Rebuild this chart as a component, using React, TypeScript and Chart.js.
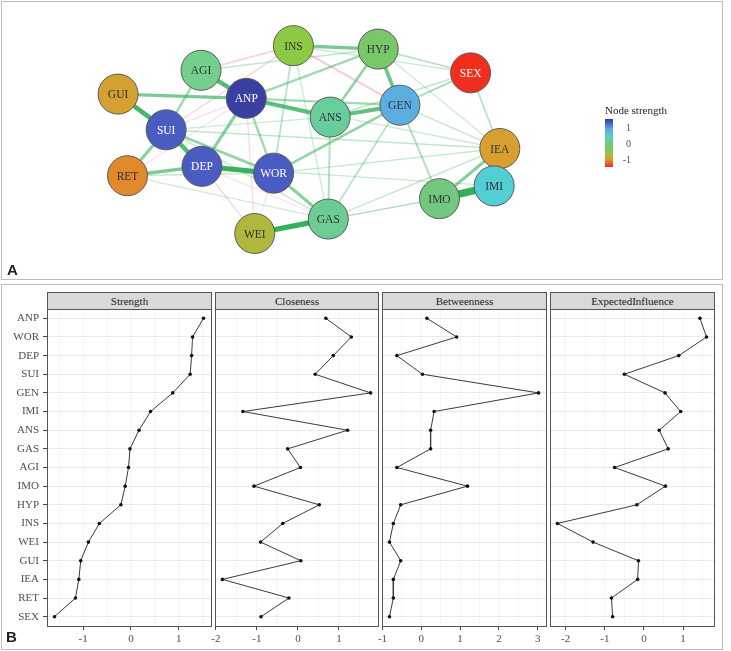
import React, { useEffect, useRef } from "react";
import { Chart, registerables } from "chart.js";

Chart.register(...registerables);

const SERIF = "'Liberation Serif', 'DejaVu Serif', serif";

// ---------- Panel A: network ----------
const nodeNames = ["INS", "HYP", "SEX", "AGI", "GUI", "ANP", "ANS", "GEN", "SUI", "DEP", "RET", "WOR", "IEA", "IMI", "IMO", "GAS", "WEI"];
const nodeX = [289, 379, 477, 191, 103, 239, 328, 402, 154, 192, 113, 268, 508, 502, 444, 326, 248];
const nodeY = [29, 33, 61, 58, 86, 91, 113, 99, 128, 171, 182, 179, 150, 194, 209, 233, 250];
const nodeColors = ["#8cca45", "#78c86a", "#f02e1e", "#74cf8c", "#d4a032", "#3a3fa2", "#68cc9c", "#5aaee0", "#4a5bc2", "#4a5bc2", "#e08a2c", "#4a5bc2", "#d8a030", "#52cfd2", "#72c87e", "#6ccc94", "#afb83c"];
const nodeTextColors = ["#333", "#333", "#fff", "#333", "#333", "#fff", "#333", "#333", "#fff", "#fff", "#333", "#fff", "#333", "#333", "#333", "#333", "#333"];

const edgeFrom = ["IMO", "WEI", "DEP", "GUI", "SUI", "AGI", "ANP", "ANS", "HYP", "GUI", "INS", "RET", "IEA", "RET", "IEA", "WOR", "ANP", "SUI", "WOR", "AGI", "ANP", "ANS", "ANP", "ANP", "SEX", "SEX", "SEX", "SEX", "SEX", "GEN", "GEN", "ANS", "INS", "SUI", "ANP", "DEP", "WOR", "GAS", "GAS", "WEI", "RET", "RET", "SUI", "AGI", "INS", "ANS", "HYP", "GEN", "AGI", "INS", "SUI", "DEP", "ANP", "SUI", "RET", "DEP", "WOR"];
const edgeTo = ["IMI", "GAS", "WOR", "SUI", "DEP", "ANP", "ANS", "GEN", "GEN", "ANP", "HYP", "DEP", "IMI", "SUI", "IMO", "GAS", "DEP", "WOR", "GEN", "SUI", "WOR", "HYP", "HYP", "GEN", "GEN", "HYP", "ANS", "INS", "IEA", "IMO", "GAS", "GAS", "WOR", "IEA", "IEA", "IMI", "IEA", "IEA", "IMO", "IMO", "WOR", "GAS", "GAS", "HYP", "GAS", "SUI", "IEA", "IEA", "INS", "GEN", "INS", "WEI", "WEI", "ANP", "ANP", "GAS", "WEI"];
const edgeWeight = [1.0, 0.7, 0.65, 0.6, 0.55, 0.55, 0.5, 0.5, 0.45, 0.4, 0.4, 0.4, 0.4, 0.35, 0.35, 0.35, 0.35, 0.3, 0.3, 0.25, 0.25, 0.3, 0.25, 0.25, 0.2, 0.15, 0.12, 0.1, 0.15, 0.18, 0.15, 0.18, 0.15, 0.12, 0.08, 0.1, 0.1, 0.1, 0.08, 0.06, 0.1, 0.06, 0.1, 0.12, 0.08, 0.08, 0.08, 0.1, -0.15, -0.2, -0.12, -0.12, -0.1, -0.1, -0.06, -0.06, -0.06];

// ---------- Panel B: centrality ----------
const centralityLabels = ["ANP", "WOR", "DEP", "SUI", "GEN", "IMI", "ANS", "GAS", "AGI", "IMO", "HYP", "INS", "WEI", "GUI", "IEA", "RET", "SEX"];
const strength = [1.52, 1.29, 1.27, 1.24, 0.875, 0.41, 0.17, -0.02, -0.05, -0.12, -0.21, -0.66, -0.89, -1.05, -1.09, -1.16, -1.6];
const closeness = [0.68, 1.3, 0.86, 0.42, 1.77, -1.34, 1.21, -0.25, 0.06, -1.07, 0.52, -0.37, -0.91, 0.07, -1.84, -0.22, -0.9];
const betweenness = [0.145, 0.91, -0.63, 0.03, 3.02, 0.33, 0.24, 0.24, -0.63, 1.19, -0.53, -0.72, -0.82, -0.53, -0.72, -0.72, -0.82];
const expectedInfluence = [1.43, 1.6, 0.89, -0.5, 0.54, 0.94, 0.39, 0.62, -0.75, 0.55, -0.18, -2.21, -1.3, -0.14, -0.16, -0.83, -0.8];
const panelTitles = ["Strength", "Closeness", "Betweenness", "ExpectedInfluence"];
const panelValues = [strength, closeness, betweenness, expectedInfluence];

const legendTicks = ["1", "0", "-1"];

const PANEL_LEFT = [47, 215, 382, 550];
const PANEL_RIGHT = [211, 378, 546, 714];
const PANEL_TOP = 309;
const PANEL_BOTTOM = 626;
const EXT = 10;
const TOPPAD = 14;

function edgeColor(w: number) {
  const a = Math.min(1, 0.16 + Math.abs(w) * 1.25);
  return w >= 0 ? `rgba(52,176,88,${a})` : `rgba(232,110,140,${Math.min(1, a * 0.85)})`;
}

function NetworkChart() {
  const ref = useRef<HTMLCanvasElement>(null);
  useEffect(() => {
    const idx = (n: string) => nodeNames.indexOf(n);
    const edges = edgeFrom.map((f, k) => {
      const a = idx(f);
      const b = idx(edgeTo[k]);
      const w = edgeWeight[k];
      return {
        data: [
          { x: nodeX[a], y: nodeY[a] },
          { x: nodeX[b], y: nodeY[b] },
        ],
        showLine: true,
        pointRadius: 0,
        borderWidth: 0.8 + 6.5 * Math.abs(w),
        borderColor: edgeColor(w),
        order: 10 - Math.abs(w),
        clip: false as any,
      };
    });
    const nodes = {
      data: nodeNames.map((_, i) => ({ x: nodeX[i], y: nodeY[i] })),
      pointRadius: 20,
      pointHoverRadius: 20,
      backgroundColor: nodeColors,
      borderColor: "#5a5a5a",
      borderWidth: 1,
      showLine: false,
      order: 0,
      clip: false as any,
    };
    const labelPlugin = {
      id: "nodeLabels",
      afterDatasetsDraw(chart: any) {
        const meta = chart.getDatasetMeta(0);
        const ctx = chart.ctx;
        ctx.save();
        ctx.font = `11.5px ${SERIF}`;
        ctx.textAlign = "center";
        ctx.textBaseline = "middle";
        meta.data.forEach((pt: any, i: number) => {
          ctx.fillStyle = nodeTextColors[i];
          ctx.fillText(nodeNames[i], pt.x, pt.y + 1);
        });
        ctx.restore();
      },
    };
    const chart = new Chart(ref.current!, {
      type: "scatter",
      data: { datasets: [nodes as any, ...(edges as any)] },
      options: {
        animation: false,
        responsive: false,
        maintainAspectRatio: false,
        layout: { padding: 0 },
        plugins: { legend: { display: false }, tooltip: { enabled: false } },
        scales: {
          x: { type: "linear", min: 0, max: 731, display: false },
          y: { type: "linear", min: 0, max: 280, reverse: true, display: false },
        },
      },
      plugins: [labelPlugin],
    });
    return () => chart.destroy();
  }, []);
  return <canvas ref={ref} width={731} height={280} style={{ position: "absolute", left: 0, top: 0 }} />;
}

function CentralityPanel({ i }: { i: number }) {
  const ref = useRef<HTMLCanvasElement>(null);
  const showY = i === 0;
  const values = panelValues[i];
  const left = showY ? 0 : PANEL_LEFT[i] - EXT;
  const width = PANEL_RIGHT[i] + EXT - left;
  const top = PANEL_TOP - TOPPAD;
  const height = 651 - top;
  useEffect(() => {
    const mn = Math.min(...values);
    const mx = Math.max(...values);
    const pad = (mx - mn) * 0.05;
    const chart = new Chart(ref.current!, {
      type: "line",
      data: {
        datasets: [
          {
            data: centralityLabels.map((l, k) => ({ x: values[k], y: l })) as any,
            borderColor: "#3a3a3a",
            borderWidth: 1,
            pointRadius: 1.8,
            pointBackgroundColor: "#111",
            pointBorderWidth: 0,
            tension: 0,
            fill: false,
          },
        ],
      },
      options: {
        animation: false,
        responsive: false,
        maintainAspectRatio: false,
        layout: { padding: { left: showY ? 0 : EXT, right: EXT, top: TOPPAD, bottom: 0 } },
        plugins: { legend: { display: false }, tooltip: { enabled: false } },
        scales: {
          x: {
            type: "linear",
            position: "bottom",
            min: mn - pad,
            max: mx + pad,
            ticks: {
              stepSize: 1,
              includeBounds: false,
              color: "#4d4d4d",
              font: { family: SERIF, size: 11 },
              padding: 3,
              maxRotation: 0,
            },
            grid: { color: "#e9e9e9", tickColor: "#444", tickLength: 4 },
            border: { display: false },
            afterFit: (s: any) => {
              s.height = 651 - PANEL_BOTTOM;
            },
          },
          x2: {
            type: "linear",
            position: "bottom",
            min: mn - pad,
            max: mx + pad,
            ticks: { stepSize: 0.5, includeBounds: false, display: false },
            grid: { color: "#f5f5f5", drawTicks: false },
            border: { display: false },
            afterFit: (s: any) => {
              s.height = 0;
            },
          },
          y: {
            type: "category",
            labels: centralityLabels,
            offset: true,
            ticks: {
              display: showY,
              color: "#4d4d4d",
              font: { family: SERIF, size: 11 },
              padding: 4,
            },
            grid: {
              offset: false,
              color: "#e9e9e9",
              tickColor: "#444",
              tickLength: 4,
              drawTicks: showY,
            },
            border: { display: false },
            afterFit: (s: any) => {
              s.width = showY ? PANEL_LEFT[0] : 0;
            },
          },
        } as any,
      },
    });
    return () => chart.destroy();
  }, []);
  return (
    <>
      <canvas ref={ref} width={width} height={height} style={{ position: "absolute", left, top }} />
      <div
        style={{
          position: "absolute",
          left: PANEL_LEFT[i],
          top: 292,
          width: PANEL_RIGHT[i] - PANEL_LEFT[i] - 1,
          height: PANEL_TOP - 292 - 1,
          background: "#d9d9d9",
          border: "1px solid #555",
          boxSizing: "content-box",
          font: `11px ${SERIF}`,
          color: "#1a1a1a",
          textAlign: "center",
          lineHeight: `${PANEL_TOP - 292 - 1}px`,
        }}
      >
        {panelTitles[i]}
      </div>
      <div
        style={{
          position: "absolute",
          left: PANEL_LEFT[i],
          top: PANEL_TOP,
          width: PANEL_RIGHT[i] - PANEL_LEFT[i] - 1,
          height: PANEL_BOTTOM - PANEL_TOP - 1,
          border: "1px solid #555",
          pointerEvents: "none",
        }}
      />
    </>
  );
}

export default function App() {
  return (
    <div style={{ position: "relative", width: 731, height: 651, background: "#fff", overflow: "hidden" }}>
      <style>{`body{margin:0;}`}</style>
      {/* Panel A frame */}
      <div style={{ position: "absolute", left: 1, top: 1, width: 720, height: 277, border: "1px solid #bdbdbd" }} />
      <NetworkChart />
      {/* Legend */}
      <div style={{ position: "absolute", left: 605, top: 104, font: `11px ${SERIF}`, color: "#222", whiteSpace: "nowrap" }}>
        Node strength
      </div>
      <div
        style={{
          position: "absolute",
          left: 605,
          top: 119,
          width: 8,
          height: 48,
          background:
            "linear-gradient(to bottom, #3a3fa2 0%, #4a5bc2 8%, #5aaee0 21%, #52cfd2 36%, #68cc9c 44%, #72c87e 52%, #78c86a 56%, #8cca45 70%, #afb83c 77%, #d6a032 83%, #e08a2c 86%, #f02e1e 100%)",
        }}
      />
      {legendTicks.map((t, k) => (
        <div
          key={t}
          style={{
            position: "absolute",
            left: 617,
            width: 14,
            top: 122 + k * 16,
            font: `10px ${SERIF}`,
            color: "#4d4d4d",
            textAlign: "right",
          }}
        >
          {t}
        </div>
      ))}
      <div style={{ position: "absolute", left: 7, top: 261, font: "bold 15px 'Liberation Sans', Arial, sans-serif", color: "#222" }}>A</div>
      {/* Panel B frame */}
      <div style={{ position: "absolute", left: 1, top: 284, width: 720, height: 364, border: "1px solid #bdbdbd" }} />
      {[0, 1, 2, 3].map((i) => (
        <CentralityPanel key={i} i={i} />
      ))}
      <div style={{ position: "absolute", left: 6, top: 628, font: "bold 15px 'Liberation Sans', Arial, sans-serif", color: "#222" }}>B</div>
    </div>
  );
}
